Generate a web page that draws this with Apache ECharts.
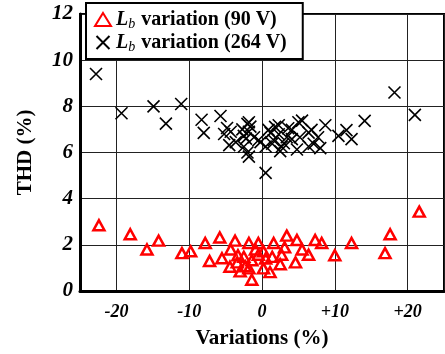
<!DOCTYPE html>
<html>
<head>
<meta charset="utf-8">
<script src="https://cdn.jsdelivr.net/npm/echarts@6/dist/echarts.min.js"></script>
<style>
html,body{margin:0;padding:0;background:#fff;}
#chart{width:445px;height:354px;}
</style>
</head>
<body>
<div id="chart"></div>
<script>
// Lb variation at 90 V: [variation %, THD %]
var lb90V = [
  [-22.4, 2.85], [-18.1, 2.46], [-15.8, 1.8], [-14.2, 2.18], [-11.0, 1.64], [-9.8, 1.72],
  [-7.8, 2.08], [-7.2, 1.3], [-5.8, 2.32], [-5.5, 1.42], [-4.4, 1.05], [-4.3, 1.8],
  [-3.7, 2.18], [-3.3, 1.55], [-3.4, 1.24], [-3.0, 0.85], [-2.5, 1.48], [-2.3, 1.07],
  [-1.8, 2.08], [-1.8, 0.98], [-1.4, 1.33], [-1.4, 0.49], [-0.9, 1.8], [-0.5, 2.08],
  [-0.5, 1.57], [0.2, 1.72], [0.5, 1.41], [0.2, 0.98], [1.1, 0.82], [1.4, 1.48],
  [1.6, 2.08], [2.5, 1.16], [2.7, 1.57], [3.1, 1.89], [3.4, 2.4], [4.6, 1.24],
  [4.8, 2.21], [5.5, 1.8], [6.4, 1.57], [7.3, 2.21], [8.2, 2.08], [10.0, 1.55],
  [12.3, 2.08], [16.9, 1.64], [17.6, 2.46], [21.6, 3.44]
];
// Lb variation at 264 V: [variation %, THD %]
var lb264V = [
  [-22.8, 9.4], [-19.3, 7.7], [-14.9, 8.0], [-13.2, 7.25], [-11.1, 8.1], [-8.3, 7.42],
  [-8.0, 6.85], [-5.7, 7.58], [-5.2, 6.8], [-4.8, 7.06], [-4.5, 6.32], [-4.3, 6.9],
  [-3.6, 6.45], [-2.7, 7.0], [-2.5, 6.72], [-2.2, 6.6], [-2.5, 6.25], [-2.0, 7.24],
  [-2.0, 6.0], [-1.8, 5.82], [-1.8, 7.31], [-1.6, 7.12], [-1.8, 6.9], [-1.1, 6.66],
  [-0.5, 6.53], [-0.2, 6.45], [0.5, 5.12], [0.5, 6.26], [0.9, 6.98], [1.2, 6.85],
  [1.8, 7.11], [1.4, 6.38], [1.6, 6.53], [2.3, 6.79], [2.3, 7.18], [2.5, 6.06],
  [2.7, 6.25], [3.0, 6.4], [3.4, 6.66], [3.6, 7.05], [4.1, 6.98], [4.1, 6.58],
  [4.8, 6.13], [5.0, 7.31], [5.2, 6.66], [5.5, 7.38], [6.4, 6.86], [6.4, 6.26],
  [6.8, 6.98], [7.1, 6.38], [7.7, 6.66], [8.0, 6.19], [8.7, 7.18], [10.5, 6.72],
  [11.6, 6.97], [12.3, 6.58], [14.1, 7.37], [18.2, 8.6], [21.0, 7.63]
];
var seriesNames = ['{L|L}{b|b} variation (90 V)', '{L|L}{b|b} variation (264 V)'];
var xTitle = 'Variations (%)';
var yTitle = 'THD (%)';

var serif = 'Liberation Serif';
var chart = echarts.init(document.getElementById('chart'), null, {renderer: 'canvas'});
var crossPath = 'path://M0,0L10,10M10,0L0,10';
chart.setOption({
  animation: false,
  backgroundColor: '#fff',
  grid: {left: 80, right: 1, top: 14, bottom: 62, show: true, borderColor: '#000', borderWidth: 2, backgroundColor: 'transparent'},
  legend: {
    left: 86, top: 3, orient: 'vertical',
    padding: [5, 16, 5, 8], itemGap: 0,
    itemWidth: 16, itemHeight: 13,
    borderColor: '#000', borderWidth: 2, backgroundColor: '#fff',
    textStyle: {
      fontFamily: serif, fontWeight: 'bold', fontSize: 20, color: '#000', lineHeight: 22,
      rich: {
        L: {fontFamily: serif, fontStyle: 'italic', fontWeight: 'bold', fontSize: 20, lineHeight: 22},
        b: {fontFamily: serif, fontStyle: 'italic', fontWeight: 'normal', fontSize: 14, lineHeight: 22, padding: [9, 1, 0, 0]}
      }
    },
    data: [
      {name: seriesNames[0]},
      {name: seriesNames[1]}
    ]
  },
  xAxis: {
    type: 'value', min: -25, max: 25, splitNumber: 5,
    name: xTitle, nameLocation: 'middle', nameGap: 37,
    nameTextStyle: {fontFamily: serif, fontWeight: 'bold', fontSize: 21, color: '#000'},
    axisLine: {show: true, onZero: false, lineStyle: {color: '#000', width: 3}},
    axisTick: {show: false},
    splitLine: {show: true, lineStyle: {color: '#222', width: 1}},
    axisLabel: {
      showMinLabel: false, showMaxLabel: false, margin: 12,
      fontFamily: serif, fontWeight: 'bold', fontStyle: 'italic', fontSize: 18, color: '#000',
      formatter: function (v) { return v > 0 ? '+' + v : String(v); }
    }
  },
  yAxis: {
    type: 'value', min: 0, max: 12, interval: 2,
    name: yTitle, nameLocation: 'middle', nameGap: 44,
    nameTextStyle: {fontFamily: serif, fontWeight: 'bold', fontSize: 21, color: '#000'},
    axisLine: {show: true, onZero: false, lineStyle: {color: '#000', width: 3}},
    axisTick: {show: false},
    splitLine: {show: true, lineStyle: {color: '#222', width: 1}},
    axisLabel: {margin: 7, fontFamily: serif, fontWeight: 'bold', fontStyle: 'italic', fontSize: 21, color: '#000'}
  },
  series: [
    {
      name: seriesNames[0], type: 'scatter', data: lb90V,
      symbol: 'triangle', symbolSize: [11, 10],
      itemStyle: {color: 'rgba(0,0,0,0)', borderColor: '#ff0000', borderWidth: 2.5, opacity: 1},
      z: 3
    },
    {
      name: seriesNames[1], type: 'scatter', data: lb264V,
      symbol: crossPath, symbolSize: 12,
      itemStyle: {color: 'rgba(0,0,0,0)', borderColor: '#000', borderWidth: 1.6, opacity: 1},
      z: 3
    }
  ]
});
</script>
</body>
</html>
